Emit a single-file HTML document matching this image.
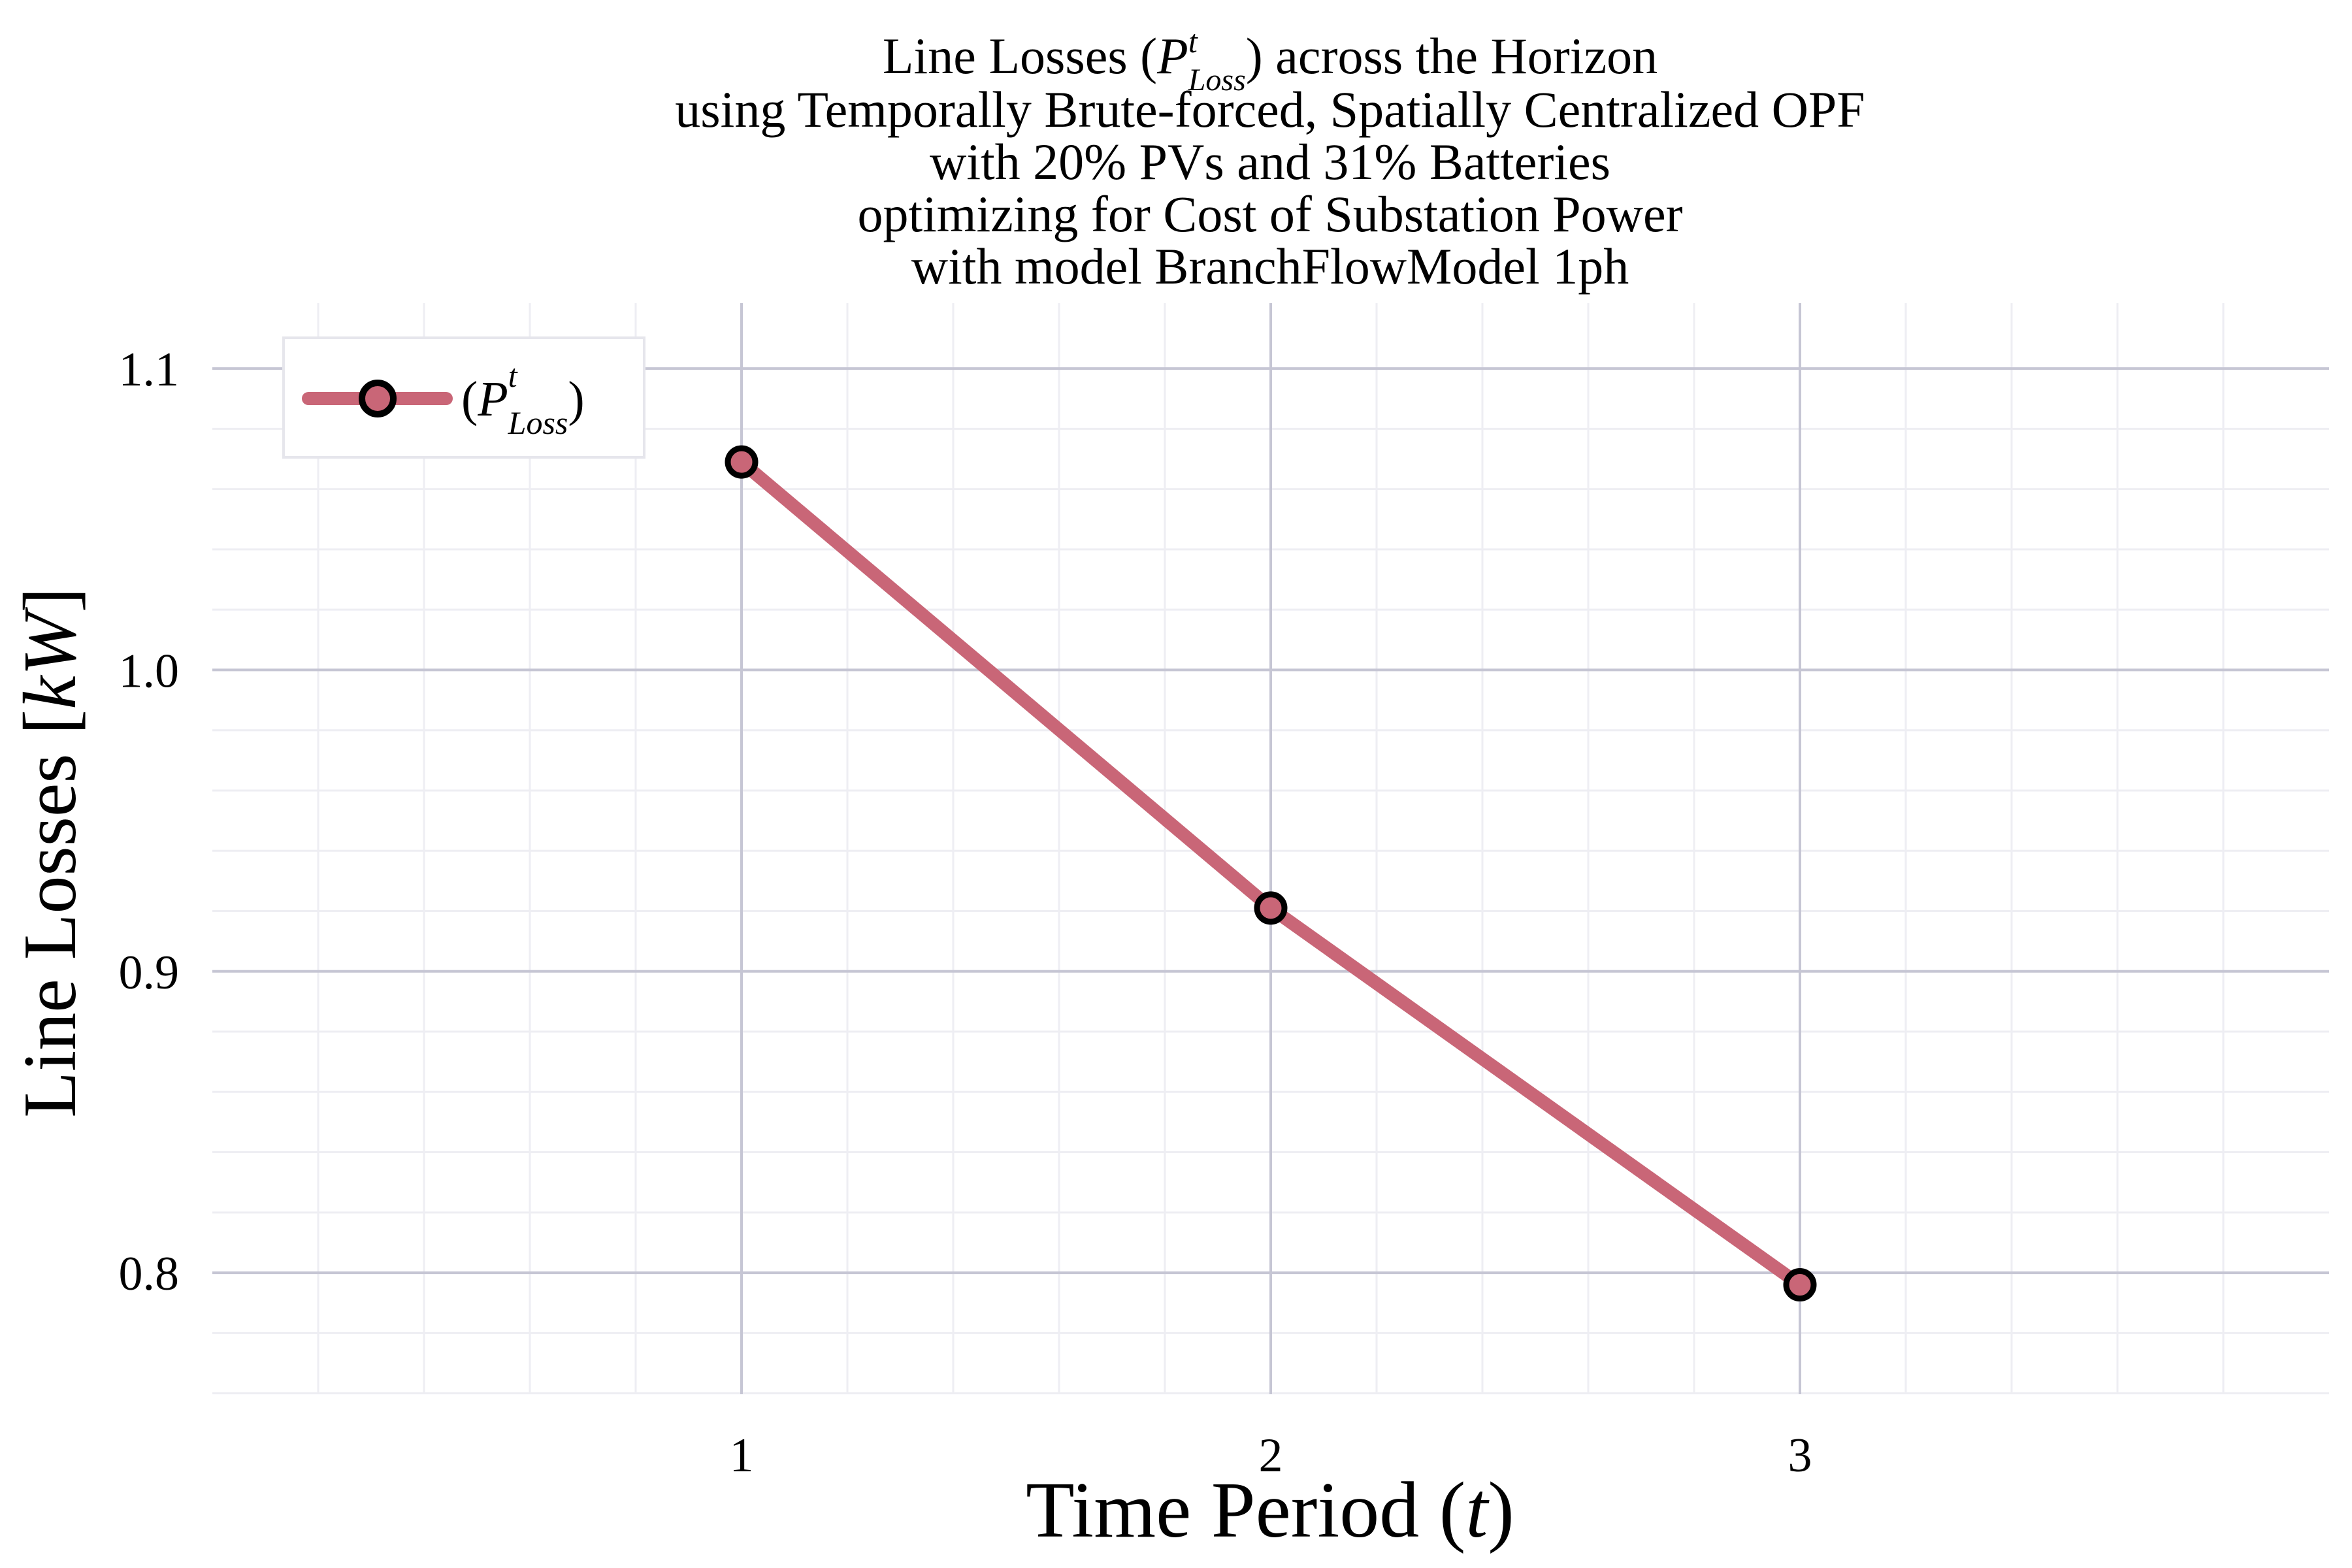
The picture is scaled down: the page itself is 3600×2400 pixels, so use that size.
<!DOCTYPE html>
<html><head><meta charset="utf-8"><style>
html,body{margin:0;padding:0;background:#fff}
svg{display:block}
text{font-family:"Liberation Serif",serif;fill:#000}
</style></head><body>
<svg id="chart" width="3600" height="2400" viewBox="0 0 3600 2400" xmlns="http://www.w3.org/2000/svg">
<g font-size="78" text-anchor="middle">
<text x="1944" y="112">Line Losses (<tspan font-style="italic">P</tspan><tspan font-style="italic" font-size="50" dy="-32">t</tspan><tspan font-style="italic" font-size="48" dx="-14" dy="58">Loss</tspan><tspan dy="-26">) across the Horizon</tspan></text>
<text x="1944" y="194">using Temporally Brute-forced, Spatially Centralized OPF</text>
<text x="1944" y="274">with 20% PVs and 31% Batteries</text>
<text x="1944" y="354">optimizing for Cost of Substation Power</text>
<text x="1944" y="434">with model BranchFlowModel 1ph</text>
</g>
<g id="grid"></g>
<g id="ticks"></g>
<g id="series"></g>
<text x="1944" y="2352" font-size="122" text-anchor="middle">Time Period (<tspan font-style="italic">t</tspan>)</text>
<text transform="translate(115,1305) rotate(-90)" font-size="116" text-anchor="middle">Line Losses [<tspan font-style="italic">kW</tspan>]</text>
<g>
<rect x="434" y="517" width="552" height="183" fill="#fff" stroke="#e6e6ec" stroke-width="4"/>
<line x1="472" y1="610" x2="683" y2="610" stroke="#c96677" stroke-width="20" stroke-linecap="round"/>
<circle cx="578" cy="610" r="24" fill="#c96677" stroke="#000" stroke-width="10"/>
<text x="706" y="636" font-size="76">(<tspan font-style="italic">P</tspan><tspan font-style="italic" font-size="50" dy="-44">t</tspan><tspan font-style="italic" font-size="50" dx="-14" dy="72">Loss</tspan><tspan dy="-28">)</tspan></text>
</g>
</svg>
<script>
const periods = [1, 2, 3];
const losses = [1.069, 0.921, 0.796];
const xTicks = [1, 2, 3];
const yTicks = [0.8, 0.9, 1.0, 1.1];
const yTickLabels = ["0.8", "0.9", "1.0", "1.1"];

const NS = "http://www.w3.org/2000/svg";
const L = 325, R = 3565, T = 464, B = 2134;
const X0 = 0, X1 = 4, Y0 = 0.7597, Y1 = 1.1217;
const xs = v => L + (v - X0) / (X1 - X0) * (R - L);
const ys = v => B - (v - Y0) / (Y1 - Y0) * (B - T);
function mk(tag, attrs, parent) {
  const e = document.createElementNS(NS, tag);
  for (const k in attrs) e.setAttribute(k, attrs[k]);
  parent.appendChild(e);
  return e;
}
const grid = document.getElementById('grid');
for (let i = 0; i <= 20; i++) {
  const v = X0 + i * 0.2;
  if (Math.abs(v - Math.round(v)) < 1e-6) continue;
  const e = mk('line', {x1: xs(v), x2: xs(v), y1: T, y2: B, stroke: '#eeeef3', 'stroke-width': 3}, grid);
  
  
}
for (let v = 0.76; v <= 1.12; v += 0.02) {
  const e = mk('line', {x1: L, x2: R, y1: ys(v), y2: ys(v), stroke: '#eeeef3', 'stroke-width': 3}, grid);
  
  
}
for (const v of [1, 2, 3]) {
  const e = mk('line', {x1: xs(v), x2: xs(v), y1: T, y2: B, stroke: '#c6c6d4', 'stroke-width': 4}, grid);
  
  
}
for (const v of yTicks) {
  const e = mk('line', {x1: L, x2: R, y1: ys(v), y2: ys(v), stroke: '#c6c6d4', 'stroke-width': 4}, grid);
  
  
}
const ticks = document.getElementById('ticks');
xTicks.forEach(v => {
  const t = mk('text', {x: xs(v), y: 2252, 'font-size': 74, 'text-anchor': 'middle'}, ticks);
  t.textContent = String(v);
  
  
});
yTicks.forEach((v, i) => {
  const t = mk('text', {x: 274, y: ys(v) + 26, 'font-size': 74, 'text-anchor': 'end'}, ticks);
  t.textContent = yTickLabels[i];
  
  
});
const series = document.getElementById('series');
const pts = periods.map((p, i) => xs(p) + ',' + ys(losses[i])).join(' ');
const pl = mk('polyline', {points: pts, fill: 'none', stroke: '#c96677', 'stroke-width': 20, 'stroke-linejoin': 'round'}, series);


periods.forEach((p, i) => {
  const c = mk('circle', {cx: xs(p), cy: ys(losses[i]), r: 21, fill: '#c96677', stroke: '#000', 'stroke-width': 9}, series);
  
  
});
</script>
</body></html>
